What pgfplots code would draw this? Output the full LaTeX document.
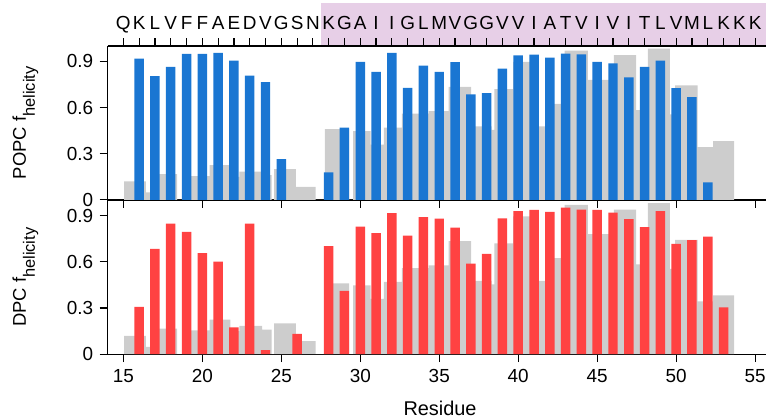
\documentclass[border=0pt]{standalone}
\usepackage{fontspec}
\setmainfont{Liberation Sans}
\usepackage{pgfplots}
\pgfplotsset{compat=1.18}

\definecolor{popcblue}{RGB}{26,118,210}
\definecolor{dpcred}{RGB}{255,66,66}
\definecolor{refgray}{RGB}{205,205,205}
\definecolor{tmpink}{RGB}{231,207,231}

\pgfplotsset{
  panel/.style={
    scale only axis, width=661.4pt, height=154.6pt,
    xmin=14, xmax=55.7, ymin=0, ymax=1,
    axis x line=bottom, axis y line=left,
    axis line style={-, line width=1.3pt},
    tick align=outside, major tick length=8pt,
    tick style={black, line width=1.2pt},
    xtick={15,20,...,55}, ytick={0,0.3,0.6,0.9},
    /pgf/number format/assume math mode=true,
    tick label style={font=\fontsize{19}{19}\selectfont},
    yticklabel style={xshift=-3pt},
    every axis y label/.style={at={(axis description cs:-0.1,0.5)},
      rotate=90, anchor=south, font=\fontsize{18.5}{18.5}\selectfont},
  },
}

% gray reference profile (step outline), same in both panels
\newcommand{\refprofile}{%
  \addplot[const plot, fill=refgray, draw=none] coordinates {
    (15.05,0.12) (16.42,0.048) (16.85,0.167) (18.41,0) (18.95,0.155)
    (20.47,0.225) (21.78,0.15) (22.35,0.184) (23.78,0.16) (24.39,0)
    (24.55,0.20) (25.92,0.085) (27.17,0) (27.76,0.46) (29.30,0)
    (29.55,0.447) (30.65,0.359) (31.49,0.47) (32.64,0.56) (34.33,0.577)
    (35.59,0.734) (37.02,0.477) (38.32,0.454) (38.49,0.72) (39.68,0.896)
    (40.80,0.477) (41.90,0.624) (42.94,0.97) (44.41,0.78) (46.05,0.94)
    (47.46,0.583) (48.20,0.982) (49.60,0.555) (49.94,0.743) (51.35,0.343)
    (52.34,0.382) (53.66,0)
  } \closedcycle;
}

\begin{document}
\begin{tikzpicture}
\path (-108pt,-64.3pt) rectangle (661.4pt,355.7pt);

% transmembrane band behind the sequence
\begin{axis}[scale only axis, width=661.4pt, height=43.1pt, at={(0,309.6pt)},
  xmin=14, xmax=55.7, ymin=0, ymax=1, hide axis]
\addplot[fill=tmpink, draw=none] coordinates {(27.5,1) (55.7,1)} \closedcycle;
\end{axis}

% DPC
\begin{axis}[panel, at={(0,0)},
  xticklabel style={yshift=-4pt},
  xlabel={Residue},
  xlabel style={at={(axis description cs:0.5048,0)}, anchor=base,
    yshift=-61.3pt, font=\fontsize{20}{20}\selectfont},
  ylabel={DPC f\raisebox{-9pt}{\fontsize{16.5}{16.5}\selectfont helicity}}]
\refprofile
\addplot[ybar, bar width=0.6, bar shift=0pt, fill=dpcred, draw=none] coordinates {
  (16,0.307) (17,0.684) (18,0.848) (19,0.794) (20,0.656) (21,0.602)
  (22,0.175) (23,0.848) (24,0.026) (26,0.132)
  (28,0.702) (29,0.412) (30,0.829) (31,0.786) (32,0.916) (33,0.771)
  (34,0.89) (35,0.881) (36,0.822) (37,0.589) (38,0.652) (39,0.883)
  (40,0.929) (41,0.937) (42,0.925) (43,0.952) (44,0.939) (45,0.937)
  (46,0.92) (47,0.877) (48,0.825) (49,0.929) (50,0.717) (51,0.741)
  (52,0.764) (53,0.304)
};
\end{axis}

% POPC
\begin{axis}[panel, at={(0,155pt)}, xticklabels={},
  ylabel={POPC f\raisebox{-9pt}{\fontsize{16.5}{16.5}\selectfont helicity}}]
\refprofile
\addplot[ybar, bar width=0.6, bar shift=0pt, fill=popcblue, draw=none] coordinates {
  (16,0.917) (17,0.803) (18,0.864) (19,0.948) (20,0.948) (21,0.954)
  (22,0.905) (23,0.807) (24,0.764) (25,0.264)
  (28,0.179) (29,0.469) (30,0.896) (31,0.831) (32,0.954) (33,0.728)
  (34,0.872) (35,0.831) (36,0.894) (37,0.686) (38,0.693) (39,0.853)
  (40,0.939) (41,0.943) (42,0.924) (43,0.95) (44,0.945) (45,0.896)
  (46,0.887) (47,0.796) (48,0.864) (49,0.905) (50,0.725) (51,0.667)
  (52,0.113)
};
\end{axis}

% sequence along the top edge
\begin{axis}[scale only axis, width=661.4pt, height=154.6pt, at={(0,155pt)},
  xmin=14, xmax=55.7, ymin=0, ymax=1,
  axis x line=top, axis y line=none, ytick=\empty,
  axis line style={-, line width=1.3pt},
  tick align=outside, major tick length=7.5pt,
  tick style={black, line width=1.2pt},
  xtick={15,...,55},
  xticklabels={Q,K,L,V,F,F,A,E,D,V,G,S,N,K,G,A,I,I,G,L,M,V,G,G,V,V,I,A,T,V,I,V,I,T,L,V,M,L,K,K,K},
  xticklabel style={font=\fontsize{19}{19}\selectfont, anchor=base, yshift=9pt}]
\end{axis}
\end{tikzpicture}
\end{document}
